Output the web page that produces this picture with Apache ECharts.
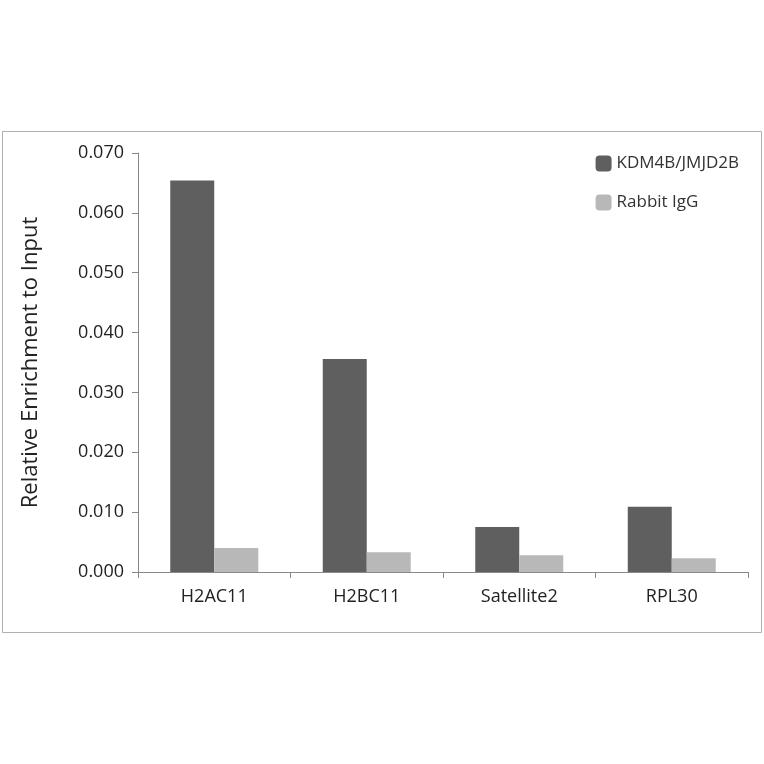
<!DOCTYPE html>
<html><head><meta charset="utf-8">
<script src="https://cdn.jsdelivr.net/npm/echarts@6/dist/echarts.min.js"></script>
<style>html,body{margin:0;padding:0;background:#fff}#c{width:764px;height:764px}</style>
</head><body><div id="c"></div>
<script>
const categories = ["H2AC11","H2BC11","Satellite2","RPL30"];
const kdm = [0.0654,0.0356,0.0075,0.0109];
const igg = [0.0040,0.0033,0.0028,0.0023];
const seriesNames = ["KDM4B/JMJD2B","Rabbit IgG"];
const chart = echarts.init(document.getElementById('c'));
const font = "'Open Sans', sans-serif";
chart.setOption({
  animation:false,
  graphic:[{type:'rect',shape:{x:2.5,y:131.5,width:759,height:501},style:{fill:'none',stroke:'#b0b0b0',lineWidth:1}}],
  grid:{left:138,right:16,top:153,bottom:192},
  legend:{orient:'vertical',right:20,top:150,itemWidth:16,itemHeight:16,itemGap:22,
    textStyle:{fontFamily:font,fontSize:17,color:'#333'},data:seriesNames},
  xAxis:{type:'category',data:categories,
    axisLine:{lineStyle:{color:'#888'}},
    axisTick:{show:true,length:6,lineStyle:{color:'#888'}},
    axisLabel:{fontFamily:font,fontSize:18,color:'#222',margin:16}},
  yAxis:{type:'value',min:0,max:0.07,interval:0.01,
    name:'Relative Enrichment to Input',nameLocation:'middle',nameGap:96,
    nameTextStyle:{fontFamily:font,fontSize:22,color:'#222'},
    axisLine:{show:true,lineStyle:{color:'#888'}},
    axisTick:{show:true,length:6,lineStyle:{color:'#888'}},
    splitLine:{show:false},
    axisLabel:{fontFamily:font,fontSize:18,color:'#222',margin:14,formatter:v=>v.toFixed(3)}},
  series:[
    {name:seriesNames[0],type:'bar',data:kdm,barWidth:44,barGap:'0%',itemStyle:{color:'#5f5f5f'}},
    {name:seriesNames[1],type:'bar',data:igg,barWidth:44,barGap:'0%',itemStyle:{color:'#b8b8b8'}}
  ]
});
</script></body></html>
